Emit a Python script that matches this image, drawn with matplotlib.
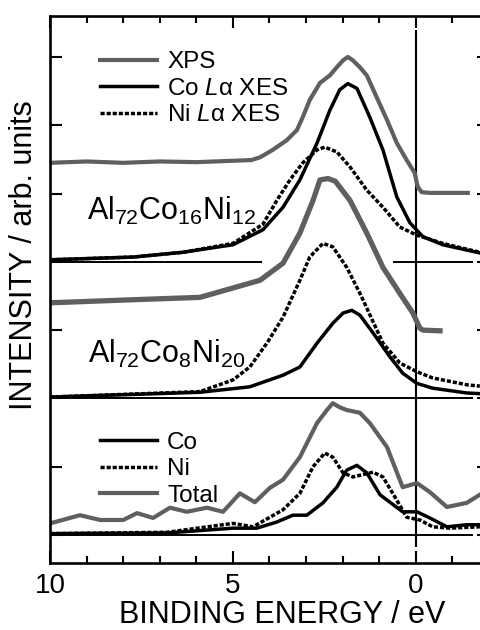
import matplotlib
matplotlib.use("Agg")
import matplotlib.pyplot as plt
from matplotlib.ticker import MultipleLocator, NullFormatter

plt.rcParams['font.family'] = ['Liberation Sans', 'DejaVu Sans']
plt.rcParams['mathtext.fontset'] = 'custom'
plt.rcParams['mathtext.rm'] = 'Liberation Sans'
plt.rcParams['mathtext.it'] = 'Liberation Sans:italic'

GRAY = '#5f5f5f'

# Al72Co16Ni12 (upper group, baseline 4)
xps1_e = [10, 9, 8, 7, 6, 5, 4.5, 4.26, 3.91, 3.53, 3.25, 3.09, 2.90, 2.62, 2.35, 2.16, 1.99, 1.86, 1.72, 1.53, 1.34,
          1.07, 0.79, 0.52, 0.25, 0.03, -0.05, -0.16, -0.38, -1.42]
xps1_y = [5.45, 5.47, 5.45, 5.47, 5.46, 5.48, 5.49, 5.53, 5.64, 5.78, 5.93, 6.12, 6.37, 6.62, 6.73, 6.85, 6.95, 7.0, 6.95,
          6.85, 6.73, 6.41, 6.08, 5.74, 5.49, 5.30, 5.10, 5.02, 5.01, 5.01]
co1_e = [10, 7.73, 6.37, 5.0, 4.18, 3.63, 3.17, 2.70, 2.35, 2.08, 1.86, 1.61, 1.26, 0.90, 0.52, 0.16, -0.19, -0.74, -1.75]
co1_y = [4.03, 4.07, 4.14, 4.25, 4.47, 4.80, 5.20, 5.74, 6.22, 6.52, 6.61, 6.54, 6.12, 5.64, 4.95, 4.57, 4.37, 4.25, 4.13]
ni1_e = [10, 7.73, 6.37, 5.0, 4.18, 3.80, 3.44, 3.09, 2.70, 2.49, 2.16, 1.80, 1.34, 0.90, 0.44, -0.03, -0.74, -1.75]
ni1_y = [4.03, 4.07, 4.14, 4.27, 4.55, 4.90, 5.20, 5.45, 5.64, 5.68, 5.61, 5.39, 5.05, 4.80, 4.51, 4.39, 4.27, 4.14]

# Al72Co8Ni20 (middle group, baseline 2)
xps2_e = [10, 8, 5.9, 4.26, 3.63, 3.17, 2.81, 2.62, 2.4, 2.2, 1.80, 1.34, 0.90, 0.44, 0.08, 0.03, -0.11, -0.19, -0.66]
xps2_y = [3.40, 3.44, 3.48, 3.73, 3.98, 4.42, 4.90, 5.20, 5.22, 5.18, 4.90, 4.42, 3.92, 3.54, 3.25, 3.19, 3.03, 3.0, 2.99]
co2_e = [10, 5.9, 4.54, 3.63, 3.17, 2.70, 2.27, 1.99, 1.75, 1.53, 1.17, 0.71, 0.36, -0.03, -0.46, -1.39, -1.75]
co2_y = [2.02, 2.09, 2.17, 2.34, 2.46, 2.81, 3.10, 3.25, 3.29, 3.22, 2.96, 2.61, 2.37, 2.22, 2.15, 2.08, 2.07]
ni2_e = [10, 5.9, 5.0, 4.54, 4.07, 3.63, 3.17, 2.90, 2.54, 2.27, 1.89, 1.53, 1.45, 0.90, 0.44, -0.03, -0.46, -1.39, -1.75]
ni2_y = [2.02, 2.10, 2.27, 2.46, 2.81, 3.19, 3.73, 4.07, 4.27, 4.22, 3.92, 3.54, 3.45, 2.81, 2.52, 2.39, 2.30, 2.20, 2.18]

# calculated DOS (lower group, baseline 0)
tot_e = [10, 9.18, 8.63, 8.0, 7.62, 7.18, 6.72, 6.26, 5.71, 5.27, 4.81, 4.40, 3.99, 3.63, 3.17, 2.70, 2.43, 2.27, 2.08,
         1.89, 1.53, 1.26, 0.79, 0.36, -0.03, -0.38, -0.85, -1.39, -1.75]
tot_y = [0.17, 0.29, 0.22, 0.22, 0.32, 0.25, 0.40, 0.34, 0.40, 0.34, 0.61, 0.48, 0.69, 0.81, 1.14, 1.64, 1.83, 1.93, 1.87,
         1.83, 1.79, 1.64, 1.29, 0.70, 0.76, 0.63, 0.41, 0.47, 0.59]
co3_e = [10, 6.8, 5.0, 4.35, 3.80, 3.36, 2.98, 2.54, 2.16, 1.89, 1.61, 1.34, 0.98, 0.71, 0.36, -0.03, -0.38, -0.85, -1.39, -1.75]
co3_y = [0.02, 0.03, 0.10, 0.10, 0.19, 0.29, 0.29, 0.47, 0.70, 0.95, 1.02, 0.91, 0.59, 0.48, 0.34, 0.34, 0.25, 0.12, 0.15, 0.15]
ni3_e = [10, 6.8, 5.0, 4.45, 3.63, 3.17, 2.81, 2.49, 2.27, 1.99, 1.72, 1.17, 0.90, 0.52, 0.25, -0.11, -0.46, -0.93, -1.75]
ni3_y = [0.02, 0.04, 0.17, 0.12, 0.37, 0.61, 1.0, 1.20, 1.14, 0.91, 0.85, 0.92, 0.85, 0.51, 0.26, 0.22, 0.12, 0.10, 0.12]

fig = plt.figure(figsize=(4.81, 6.30), dpi=100)
ax = fig.add_axes([50/481, 67/630, 439/481, 547/630])

dots = (0, (1.2, 0.55))
LW = 2.5

# baselines and Fermi level
ax.hlines(4, 10, 4.2, color='black', lw=1.4)
ax.hlines(4, 0.63, -1.56, color='black', lw=1.4)
ax.hlines([2, 0], 10, -1.56, color='black', lw=1.4)
ax.vlines(0, -0.18, 7.39, color='black', lw=1.5)

l_xps, = ax.plot(xps1_e, xps1_y, color=GRAY, lw=3.0, solid_joinstyle='round')
l_co, = ax.plot(co1_e, co1_y, color='black', lw=LW, solid_joinstyle='round')
l_ni, = ax.plot(ni1_e, ni1_y, color='black', lw=LW, linestyle=dots)

ax.plot(xps2_e, xps2_y, color=GRAY, lw=3.8, solid_joinstyle='round')
ax.plot(co2_e, co2_y, color='black', lw=LW, solid_joinstyle='round')
ax.plot(ni2_e, ni2_y, color='black', lw=LW, linestyle=dots)

d_co, = ax.plot(co3_e, co3_y, color='black', lw=LW, solid_joinstyle='round')
d_ni, = ax.plot(ni3_e, ni3_y, color='black', lw=LW, linestyle=dots)
d_tot, = ax.plot(tot_e, tot_y, color=GRAY, lw=3.0, solid_joinstyle='round')

ax.text(9.0, 4.61, r'Al$_{72}$Co$_{16}$Ni$_{12}$', fontsize=22, va='baseline')
ax.text(8.96, 2.52, r'Al$_{72}$Co$_{8}$Ni$_{20}$', fontsize=22, va='baseline')

leg_kw = dict(loc='upper left', frameon=False, fontsize=17.5, handlelength=2.35,
              handletextpad=0.41, labelspacing=0.19, borderpad=0, borderaxespad=0)
leg1 = ax.legend([l_xps, l_co, l_ni], ['XPS', r'Co $L$α XES', r'Ni $L$α XES'],
                 bbox_to_anchor=(0.114, 0.936), **leg_kw)
ax.add_artist(leg1)
ax.legend([d_co, d_ni, d_tot], ['Co', 'Ni', 'Total'],
          bbox_to_anchor=(0.114, 0.240), **leg_kw)

ax.set_xlim(10, -2)
ax.set_ylim(-0.41, 7.6)
ax.xaxis.set_minor_locator(MultipleLocator(1))
ax.set_xticks([10, 5, 0])
ax.set_xticklabels(['10', '5', '0'])
ax.set_yticks(range(8))
ax.yaxis.set_major_formatter(NullFormatter())
ax.tick_params(which='both', direction='in', top=True, right=True, width=1.5)
ax.tick_params(which='major', length=8.6)
ax.tick_params(which='minor', length=5)
ax.tick_params(axis='x', labelsize=20, pad=7)
for s in ax.spines.values():
    s.set_linewidth(1.9)

ax.set_xlabel('BINDING ENERGY / eV', fontsize=22)
ax.xaxis.set_label_coords(0.528, -0.068)
ax.set_ylabel('INTENSITY / arb. units', fontsize=22)
ax.yaxis.set_label_coords(-0.025, 0.563)

fig.savefig('out.png', dpi=100)
